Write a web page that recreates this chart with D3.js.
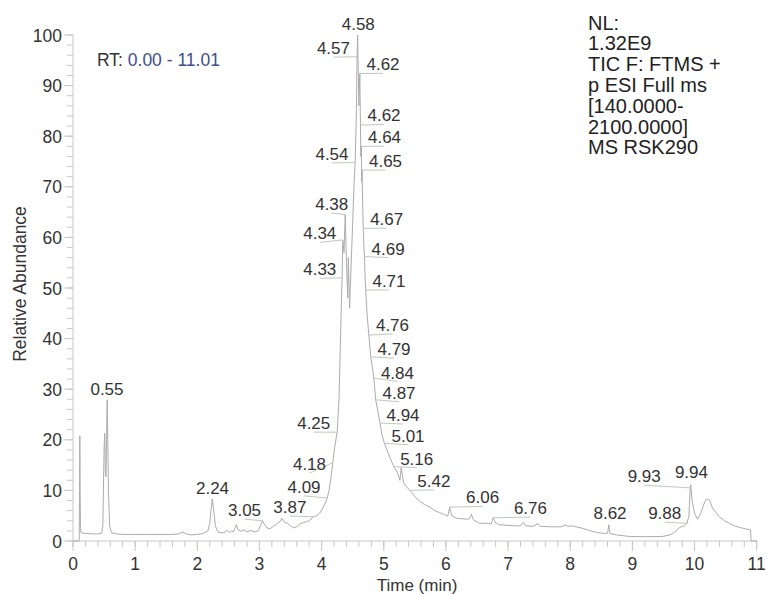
<!DOCTYPE html>
<html><head><meta charset="utf-8">
<script src="https://cdn.jsdelivr.net/npm/d3@7/dist/d3.min.js"></script>
<style>body{margin:0;background:#fff}svg{display:block}text{font-family:"Liberation Sans",Arial,sans-serif}</style>
</head><body><svg id="c" width="767" height="594"></svg>
<script>
// Trace: retention time (min) and relative abundance (%)
const times = [0,0.10,0.105,0.11,0.115,0.12,0.13,0.20,0.30,0.40,0.46,0.48,0.50,0.51,0.52,0.53,0.54,0.55,0.56,0.57,0.59,0.62,0.70,0.80,1.00,1.20,1.40,1.60,1.70,1.76,1.82,1.90,2.00,2.10,2.17,2.20,2.22,2.24,2.26,2.29,2.33,2.40,2.45,2.48,2.52,2.55,2.58,2.61,2.63,2.65,2.70,2.75,2.80,2.86,2.92,2.98,3.02,3.05,3.08,3.12,3.17,3.22,3.27,3.30,3.33,3.36,3.40,3.45,3.50,3.55,3.60,3.65,3.70,3.75,3.80,3.87,3.92,3.97,4.02,4.06,4.09,4.12,4.15,4.18,4.21,4.25,4.28,4.30,4.32,4.33,4.34,4.36,4.38,4.40,4.42,4.43,4.45,4.47,4.50,4.52,4.54,4.56,4.57,4.58,4.59,4.60,4.61,4.615,4.625,4.63,4.64,4.645,4.65,4.66,4.67,4.68,4.69,4.70,4.71,4.73,4.76,4.79,4.82,4.84,4.87,4.90,4.94,4.97,5.01,5.05,5.10,5.16,5.22,5.26,5.28,5.30,5.32,5.36,5.42,5.50,5.58,5.66,5.74,5.82,5.90,5.98,6.03,6.06,6.09,6.17,6.25,6.33,6.38,6.41,6.44,6.54,6.65,6.73,6.76,6.80,6.86,7.00,7.10,7.20,7.25,7.28,7.40,7.48,7.52,7.70,7.85,7.93,7.96,8.04,8.10,8.20,8.30,8.42,8.55,8.60,8.62,8.64,8.75,8.95,9.20,9.49,9.60,9.65,9.72,9.76,9.84,9.88,9.91,9.93,9.94,9.96,10.00,10.05,10.10,10.15,10.19,10.24,10.29,10.35,10.40,10.48,10.56,10.64,10.72,10.82,10.90,10.91,11.01];
const abundance = [0,0,10,20.8,10,2.5,1.6,1.5,1.4,1.4,1.5,3,18,21.3,14,12.7,20,27.9,20,10,3,1.6,1.4,1.3,1.3,1.3,1.3,1.3,1.4,1.8,1.4,1.2,1.3,1.5,2.0,3.5,6,8.3,6.5,3,1.8,1.6,1.8,2.1,1.7,2.0,1.8,2.6,3.3,2.3,1.9,2.2,1.8,2.1,1.8,2.0,3.2,4.0,3.3,2.6,2.4,2.9,3.3,3.6,3.8,4.5,3.7,3.5,3.0,2.6,2.8,3.4,3.6,3.8,4.0,4.8,5.0,5.5,6.5,7.5,8.5,10,12.5,15.5,18.5,21.5,28,38,48,52,59.5,57,64.5,55,48,56,46,53,63,70,74.8,85,95.7,100,93,86,91,92.4,82.2,76,78,71,73.3,67,61.8,58,56.2,52,49.6,45,40.7,36.4,34,32.2,27.9,26,23.3,21,19.3,18,16.5,14.7,13.5,12,14.5,13,11.5,10.8,10.0,8.8,7.8,7.2,6.7,6.0,5.6,5.2,4.9,6.7,5.0,4.5,4.4,4.3,4.4,5.3,4.2,3.5,3.5,3.4,4.6,3.6,3.2,3.1,3.0,3.0,3.7,3.0,2.9,3.4,2.9,2.8,2.8,3.2,2.9,3.0,2.8,2.5,2.1,1.7,1.5,1.5,3.2,1.5,1.2,0.9,0.85,0.9,1.2,1.5,2.2,2.7,3.0,3.5,5,10.5,11.1,8,5.5,4.3,5.5,7.3,8.3,8.1,6.5,5.5,4.8,4.0,3.5,3.0,2.7,2.4,2.2,0,0];

// Peak labels: text, peak point (time, abundance), label centre (time, abundance)
const peakLabels = ["0.55","2.24","3.05","3.87","4.09","4.18","4.25","4.33","4.34","4.38","4.54","4.57","4.58","4.62","4.62","4.64","4.65","4.67","4.69","4.71","4.76","4.79","4.84","4.87","4.94","5.01","5.16","5.42","6.06","6.76","8.62","9.88","9.93","9.94"];
const peakTime = [0.55,2.24,3.05,3.87,4.09,4.18,4.25,4.33,4.34,4.38,4.54,4.57,4.58,4.615,4.625,4.64,4.65,4.67,4.69,4.71,4.76,4.79,4.84,4.87,4.94,5.01,5.16,5.42,6.06,6.76,8.62,9.88,9.93,9.94];
const peakAbund = [27.9,8.3,4.0,4.8,8.5,15.5,21.5,52,59.5,64.5,74.8,95.7,100,92.4,82.2,78,73.3,61.8,56.2,49.6,40.7,36.4,32.2,27.9,23.3,19.3,14.7,10.0,6.7,4.6,3.2,3.5,10.5,11.1];
const labelTime = [0.547,2.245,2.76,3.49,3.717,3.805,3.873,3.97,3.97,4.163,4.167,4.19,4.59,4.988,5.004,5.012,5.028,5.047,5.07,5.084,5.14,5.165,5.22,5.245,5.31,5.39,5.53,5.805,6.59,7.36,8.64,9.52,9.19,9.95];
const labelAbund = [30.0,10.4,6.1,6.7,10.7,15.2,23.3,53.7,60.8,66.6,76.5,97.4,102.2,94.2,84.1,79.8,75.1,63.6,57.8,51.4,42.7,37.9,33.3,29.3,24.9,20.8,16.3,11.9,8.6,6.5,5.5,5.5,12.8,13.6];

const xTicks = [0,1,2,3,4,5,6,7,8,9,10,11];
const yTicks = [0,10,20,30,40,50,60,70,80,90,100];
const headerLines = ["NL:","1.32E9","TIC F: FTMS +","p ESI Full ms","[140.0000-","2100.0000]","MS RSK290"];
const rtLabel = "RT:";
const rtRange = "0.00 - 11.01";

const svg = d3.select("#c");
const x = d3.scaleLinear().domain([0,11]).range([73,756.7]);
const y = d3.scaleLinear().domain([0,100]).range([541,35]);
const axisCol = "#c8c8c8", textCol = "#333";

const g = svg.append("g");
g.append("line").attr("x1",x(0)).attr("x2",x(11)).attr("y1",y(0)).attr("y2",y(0)).attr("stroke",axisCol);
g.append("line").attr("x1",x(0)).attr("x2",x(0)).attr("y1",y(0)).attr("y2",y(100)).attr("stroke",axisCol);
const xMinor = d3.range(0,56).map(i=>i*0.2);
g.selectAll(".xm").data(xMinor).join("line").attr("x1",d=>x(d)).attr("x2",d=>x(d)).attr("y1",y(0)).attr("y2",y(0)+6).attr("stroke",axisCol);
g.selectAll(".xM").data(xTicks).join("line").attr("x1",d=>x(d)).attr("x2",d=>x(d)).attr("y1",y(0)).attr("y2",y(0)+10).attr("stroke",axisCol);
const yMinor = d3.range(0,51).map(i=>i*2);
g.selectAll(".ym").data(yMinor).join("line").attr("x1",x(0)-6).attr("x2",x(0)).attr("y1",d=>y(d)).attr("y2",d=>y(d)).attr("stroke",axisCol);
g.selectAll(".yM").data(yTicks).join("line").attr("x1",x(0)-9).attr("x2",x(0)).attr("y1",d=>y(d)).attr("y2",d=>y(d)).attr("stroke",axisCol);

g.selectAll(".xl").data(xTicks).join("text").attr("x",d=>x(d)).attr("y",y(0)+29).attr("text-anchor","middle").attr("font-size",17.5).attr("fill",textCol).text(d=>d);
g.selectAll(".yl").data(yTicks).join("text").attr("x",x(0)-11).attr("y",d=>y(d)+6.5).attr("text-anchor","end").attr("font-size",17.5).attr("fill",textCol).text(d=>d);

svg.append("text").attr("x",417).attr("y",591).attr("text-anchor","middle").attr("font-size",17).attr("fill",textCol).text("Time (min)");
svg.append("text").attr("transform","translate(26,284) rotate(-90)").attr("text-anchor","middle").attr("font-size",17.5).attr("fill",textCol).text("Relative Abundance");

// trace
const pts = times.map((t,i)=>[t,abundance[i]]);
svg.append("path").datum(pts).attr("d",d3.line().x(d=>x(d[0])).y(d=>y(d[1]))).attr("fill","none").attr("stroke","#acacac").attr("stroke-width",1);

// leaders & labels
const lab = svg.append("g");
peakLabels.forEach((s,i)=>{
  const px=x(peakTime[i]), py=y(peakAbund[i]), lx=x(labelTime[i]), ly=y(labelAbund[i]);
  if (Math.abs(lx-px)>8) {
    lab.append("line").attr("x1",px).attr("y1",py).attr("x2",lx).attr("y2",ly+9).attr("stroke","#bccbbc").attr("stroke-width",1);
  }
  lab.append("text").attr("x",lx).attr("y",ly+6).attr("text-anchor","middle").attr("font-size",17).attr("fill",textCol).text(s);
});

const rt = svg.append("text").attr("x",97).attr("y",66).attr("font-size",17.5);
rt.append("tspan").attr("fill",textCol).text(rtLabel+" ");
rt.append("tspan").attr("fill","#3e4d8c").text(rtRange);

svg.append("g").selectAll("text").data(headerLines).join("text").attr("x",588).attr("y",(d,i)=>29.5+i*20.8).attr("font-size",20).attr("fill","#222").text(d=>d);
</script></body></html>
